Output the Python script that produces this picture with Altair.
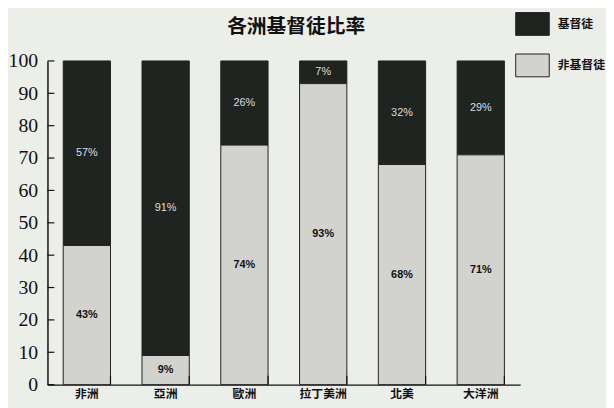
import altair as alt
import pandas as pd

regions = ["非洲", "亞洲", "歐洲", "拉丁美洲", "北美", "大洋洲"]
christian = [57, 91, 26, 7, 32, 29]
non_christian = [43, 9, 74, 93, 68, 71]
series = ["基督徒", "非基督徒"]
y_ticks = [0, 10, 20, 30, 40, 50, 60, 70, 80, 90, 100]
title_text = ["各洲基督徒比率"]

rows = []
for r, c, n in zip(regions, christian, non_christian):
    rows.append({"region": r, "series": series[0], "value": c, "order": 1})
    rows.append({"region": r, "series": series[1], "value": n, "order": 0})
df = pd.DataFrame(rows)
ticks_df = pd.DataFrame({"t": y_ticks})
reg_df = pd.DataFrame({"region": regions})
title_df = pd.DataFrame({"title": title_text})

DARK = "#1f2421"
LIGHT = "#d2d3cf"
BG = "#eceee9"

x_scale = alt.Scale(paddingInner=0.4, paddingOuter=0.2)
x_axis = alt.Axis(labelAngle=0, ticks=False, tickSize=0, domainColor="#111",
                  domainWidth=1.5, labelFont="Noto Sans CJK TC",
                  labelFontWeight="bold", labelFontSize=12, labelColor="#111",
                  labelPadding=4, title=None)
y_scale = alt.Scale(domain=[0, 100], nice=False)
y_axis = alt.Axis(values=y_ticks, ticks=False, tickSize=0, grid=False,
                  labelOverlap=False, labelFlush=False,
                  domainColor="#111", domainWidth=1.5,
                  labelFont="Liberation Serif", labelFontSize=20,
                  labelColor="#111", labelPadding=10, title=None)

base = alt.Chart(df).transform_stack(
    stack="value", as_=["y0", "y1"], groupby=["region"],
    sort=[alt.SortField("order", order="ascending")]
).transform_calculate(mid="(datum.y0 + datum.y1) / 2", label="datum.value + '%'")

bars = base.mark_bar(stroke="#222", strokeWidth=1).encode(
    x=alt.X("region:N", sort=regions, scale=x_scale, axis=x_axis),
    y=alt.Y("y0:Q", scale=y_scale, axis=y_axis),
    y2="y1:Q",
    color=alt.Color("series:N",
                    scale=alt.Scale(domain=series, range=[DARK, LIGHT]),
                    legend=alt.Legend(title=None, orient="none", legendX=474, legendY=-55,
                                      symbolType="M-1,-0.68L1,-0.68L1,0.68L-1,0.68Z",
                                      symbolSize=1156, symbolStrokeColor="#222",
                                      symbolStrokeWidth=1, symbolOpacity=1,
                                      labelFont="Noto Sans CJK TC", labelFontWeight="bold",
                                      labelFontSize=12, labelColor="#111",
                                      labelOffset=8, rowPadding=10, padding=0)),
)

dark_text = base.transform_filter(alt.datum.series == series[0]).mark_text(
    font="Liberation Sans", fontSize=11, color="#dddddd"
).encode(
    x=alt.X("region:N", sort=regions, scale=x_scale, axis=x_axis),
    y=alt.Y("mid:Q", scale=y_scale, axis=y_axis),
    text=alt.Text("label:N"),
)

light_text = base.transform_filter(alt.datum.series == series[1]).mark_text(
    font="Liberation Sans", fontSize=11, fontWeight="bold", color="#111"
).encode(
    x=alt.X("region:N", sort=regions, scale=x_scale, axis=x_axis),
    y=alt.Y("mid:Q", scale=y_scale, axis=y_axis),
    text=alt.Text("label:N"),
)

y_tick_rules = alt.Chart(ticks_df).mark_rule(color="#111", strokeWidth=1.2).encode(
    y=alt.Y("t:Q", scale=y_scale, axis=y_axis),
    x=alt.value(0), x2=alt.value(7),
)

x_tick_rules = alt.Chart(reg_df).mark_rule(color="#111", strokeWidth=1.2).encode(
    x=alt.X("region:N", sort=regions, bandPosition=1, scale=x_scale, axis=x_axis),
    y=alt.value(328), y2=alt.value(319),
)

title_mark = alt.Chart(title_df).mark_text(
    font="Noto Sans CJK TC", fontSize=20, fontWeight="bold", color="#111",
    baseline="middle", align="center"
).encode(text="title:N", x=alt.value(252), y=alt.value(-34))

chart = alt.layer(bars, dark_text, light_text, y_tick_rules, x_tick_rules, title_mark).properties(
    width=479, height=328,
    autosize=alt.AutoSizeParams(type="none"),
    padding={"left": 40, "top": 51, "right": 87, "bottom": 21},
).configure(background=BG).configure_view(stroke=None)

chart.save("out.html", embed_options={"renderer": "svg", "actions": False})
